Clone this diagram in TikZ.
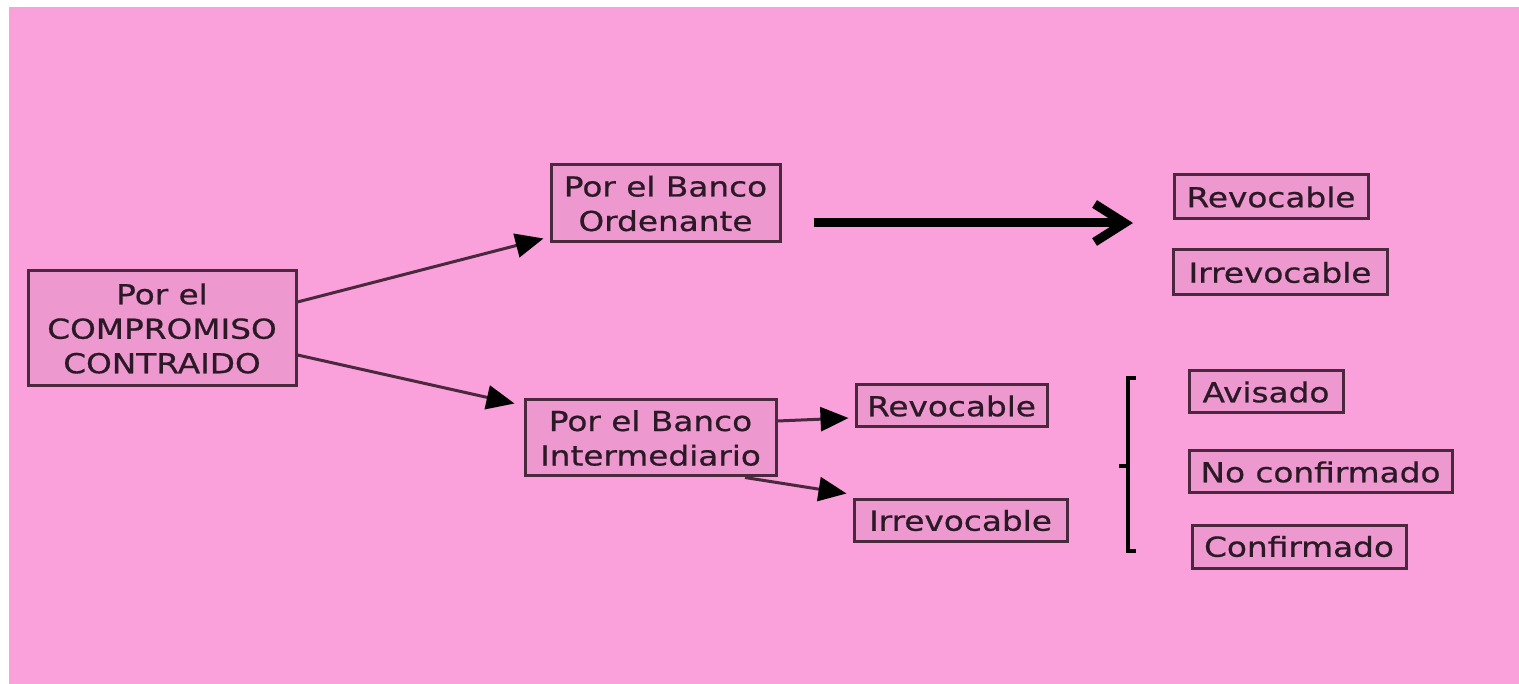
\documentclass[tikz,border=0pt]{standalone}
\usepackage{fontspec}
\setmainfont{DejaVu Sans}[FakeStretch=1.19,FakeBold=0.7]
\usetikzlibrary{arrows.meta}
\definecolor{bgpink}{RGB}{250,160,218}
\definecolor{boxpink}{RGB}{238,152,208}
\definecolor{boxline}{RGB}{74,40,62}
\definecolor{txt}{RGB}{43,26,38}
\tikzset{
  cbox/.style={draw=boxline, line width=3pt, fill=boxpink, inner sep=0pt,
    text=txt, font=\fontsize{27.5}{34.5}\selectfont, align=center},
  conn/.style={draw=boxline, line width=3pt,
    -{Triangle[length=28pt,width=24pt,fill=black,color=black]}},
  bigarrow/.style={draw=black, line width=9pt,
    -{Straight Barb[length=30pt,width=38pt]}},
  brack/.style={draw=black, line width=4.5pt}
}
\begin{document}
\begin{tikzpicture}[x=1pt,y=-1pt]
\useasboundingbox (0,0) rectangle (1519,684);
\fill[white] (0,0) rectangle (1519,684);
\fill[bgpink] (9,7) rectangle (1519,684);

\node[cbox, minimum width=268pt, minimum height=115pt] (comp) at (162,328.5) {Por el\\COMPROMISO\\CONTRAIDO};
\node[cbox, minimum width=229pt, minimum height=77pt] (ord) at (665.5,203.5) {Por el Banco\\Ordenante};
\node[cbox, minimum width=251pt, minimum height=76pt] (inter) at (650.5,438) {Por el Banco\\Intermediario};
\node[cbox, minimum width=191pt, minimum height=42pt] (rev2) at (951.5,406) {Revocable};
\node[cbox, minimum width=213pt, minimum height=41pt] (irr2) at (960.5,520.5) {Irrevocable};
\node[cbox, minimum width=194pt, minimum height=44pt] (rev1) at (1271,197) {Revocable};
\node[cbox, minimum width=214pt, minimum height=45pt] (irr1) at (1280,272.5) {Irrevocable};
\node[cbox, minimum width=154pt, minimum height=42pt] (avis) at (1266,392) {Avisado};
\node[cbox, minimum width=263pt, minimum height=42pt] (noconf) at (1320.5,472) {No confirmado};
\node[cbox, minimum width=214pt, minimum height=43pt] (conf) at (1299,546.5) {Confirmado};

\draw[conn] ([yshift=26.5pt]comp.east) -- ([xshift=-6pt,yshift=5pt]ord.south west);
\draw[conn] ([yshift=-26.5pt]comp.east) -- ([xshift=-9pt,yshift=-5pt]inter.north west);
\draw[conn] ([yshift=17pt]inter.east) -- ([xshift=-6pt,yshift=-12pt]rev2.west);
\draw[conn] ([xshift=94.5pt]inter.south) -- ([xshift=-6pt,yshift=5pt]irr2.north west);

\coordinate (t1) at (814,223);
\coordinate (t2) at (1133,223);
\draw[bigarrow] (t1) -- (t2);

\draw[brack] (1136,378) -- (1128,378) -- (1128,551) -- (1136,551);
\draw[brack] (1119,466) -- (1128,466);
\end{tikzpicture}
\end{document}
